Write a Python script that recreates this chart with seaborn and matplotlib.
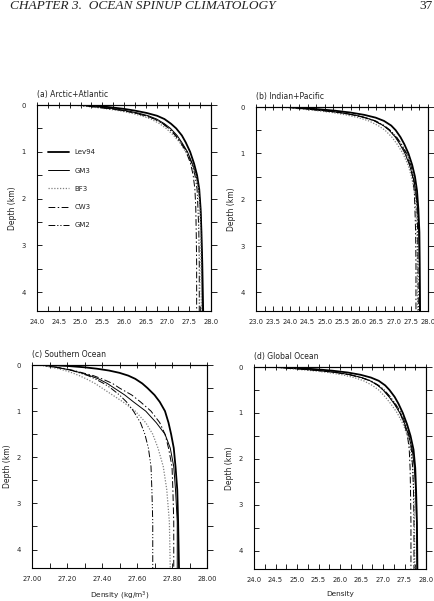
import matplotlib
matplotlib.use("Agg")
import matplotlib.pyplot as plt
from matplotlib.ticker import MultipleLocator, FormatStrFormatter
import pandas as pd
import seaborn as sns

# depth levels (km) shared by all profiles
depth_km = [0, 0.02, 0.05, 0.08, 0.12, 0.17, 0.23, 0.3, 0.4, 0.5, 0.65, 0.8, 1.0, 1.25, 1.5, 1.8, 2.2, 2.7, 3.4, 4.4]
models = ["Lev94", "GM3", "BF3", "CW3", "GM2"]

# (a) Arctic+Atlantic
atl_lev94 = [25.10, 25.40, 25.70, 25.98, 26.25, 26.52, 26.76, 26.93, 27.08, 27.20, 27.33, 27.42, 27.52, 27.61, 27.68, 27.73, 27.76, 27.78, 27.80, 27.82]
atl_gm3 = [24.95, 25.20, 25.50, 25.78, 26.05, 26.32, 26.56, 26.75, 26.93, 27.07, 27.22, 27.33, 27.46, 27.57, 27.66, 27.72, 27.76, 27.78, 27.79, 27.80]
atl_bf3 = [24.80, 25.05, 25.32, 25.58, 25.88, 26.15, 26.40, 26.62, 26.82, 26.97, 27.14, 27.28, 27.42, 27.55, 27.65, 27.71, 27.74, 27.76, 27.77, 27.78]
atl_cw3 = [24.85, 25.12, 25.42, 25.68, 25.97, 26.24, 26.49, 26.70, 26.89, 27.03, 27.18, 27.30, 27.43, 27.53, 27.59, 27.63, 27.65, 27.66, 27.67, 27.67]
atl_gm2 = [24.85, 25.10, 25.40, 25.68, 25.98, 26.26, 26.50, 26.71, 26.90, 27.04, 27.19, 27.31, 27.45, 27.56, 27.63, 27.68, 27.70, 27.72, 27.73, 27.73]

# (b) Indian+Pacific
pac_lev94 = [23.90, 24.30, 24.85, 25.30, 25.75, 26.15, 26.48, 26.72, 26.93, 27.06, 27.20, 27.31, 27.43, 27.54, 27.62, 27.68, 27.72, 27.75, 27.76, 27.77]
pac_gm3 = [23.80, 24.15, 24.60, 25.00, 25.45, 25.85, 26.18, 26.45, 26.70, 26.87, 27.05, 27.18, 27.33, 27.46, 27.56, 27.64, 27.70, 27.73, 27.75, 27.76]
pac_bf3 = [23.70, 24.00, 24.40, 24.78, 25.22, 25.62, 25.98, 26.28, 26.55, 26.75, 26.95, 27.10, 27.27, 27.42, 27.52, 27.60, 27.65, 27.68, 27.69, 27.70]
pac_cw3 = [23.80, 24.12, 24.55, 24.95, 25.40, 25.80, 26.15, 26.44, 26.70, 26.88, 27.07, 27.21, 27.36, 27.48, 27.55, 27.60, 27.62, 27.64, 27.65, 27.65]
pac_gm2 = [23.80, 24.15, 24.60, 25.00, 25.45, 25.85, 26.20, 26.48, 26.73, 26.90, 27.09, 27.23, 27.38, 27.50, 27.58, 27.64, 27.68, 27.70, 27.71, 27.72]

# (c) Southern Ocean
sou_lev94 = [27.10, 27.20, 27.30, 27.37, 27.44, 27.50, 27.55, 27.59, 27.63, 27.66, 27.70, 27.73, 27.76, 27.78, 27.795, 27.81, 27.82, 27.83, 27.835, 27.84]
sou_gm3 = [27.05, 27.09, 27.14, 27.18, 27.23, 27.28, 27.33, 27.38, 27.43, 27.47, 27.53, 27.58, 27.65, 27.71, 27.76, 27.79, 27.81, 27.82, 27.83, 27.83]
sou_bf3 = [27.03, 27.07, 27.11, 27.15, 27.19, 27.23, 27.27, 27.31, 27.36, 27.40, 27.46, 27.52, 27.59, 27.65, 27.69, 27.72, 27.75, 27.77, 27.785, 27.79]
sou_cw3 = [27.05, 27.09, 27.14, 27.19, 27.24, 27.29, 27.35, 27.40, 27.46, 27.50, 27.57, 27.62, 27.68, 27.73, 27.76, 27.78, 27.80, 27.805, 27.81, 27.81]
sou_gm2 = [27.05, 27.09, 27.14, 27.18, 27.23, 27.27, 27.32, 27.36, 27.41, 27.45, 27.50, 27.54, 27.58, 27.62, 27.645, 27.665, 27.68, 27.685, 27.69, 27.69]

# (d) Global Ocean
glo_lev94 = [24.60, 25.00, 25.45, 25.82, 26.18, 26.48, 26.72, 26.90, 27.05, 27.15, 27.27, 27.36, 27.46, 27.56, 27.64, 27.71, 27.75, 27.77, 27.79, 27.80]
glo_gm3 = [24.40, 24.75, 25.20, 25.55, 25.93, 26.25, 26.50, 26.70, 26.88, 27.00, 27.14, 27.26, 27.39, 27.51, 27.60, 27.68, 27.73, 27.76, 27.78, 27.79]
glo_bf3 = [24.30, 24.60, 25.00, 25.35, 25.73, 26.05, 26.33, 26.55, 26.75, 26.90, 27.05, 27.18, 27.33, 27.47, 27.57, 27.64, 27.69, 27.72, 27.73, 27.74]
glo_cw3 = [24.40, 24.72, 25.15, 25.50, 25.90, 26.22, 26.48, 26.70, 26.88, 27.01, 27.15, 27.27, 27.40, 27.50, 27.57, 27.61, 27.63, 27.64, 27.65, 27.65]
glo_gm2 = [24.40, 24.72, 25.15, 25.52, 25.92, 26.24, 26.50, 26.72, 26.90, 27.03, 27.17, 27.29, 27.42, 27.53, 27.61, 27.66, 27.69, 27.71, 27.72, 27.72]


def long_frame(series):
    rows = []
    for name, vals in zip(models, series):
        for d, v in zip(depth_km, vals):
            rows.append({"model": name, "depth": d, "density": v})
    return pd.DataFrame(rows)


sns.set_style("ticks")
plt.rcParams["font.family"] = ["DejaVu Sans"]
plt.rcParams["axes.linewidth"] = 0.8
plt.rcParams["text.color"] = "#222222"
plt.rcParams["axes.labelcolor"] = "#222222"
plt.rcParams["xtick.color"] = "#222222"
plt.rcParams["ytick.color"] = "#222222"

palette = {"Lev94": "black", "GM3": "black", "BF3": "#808080", "CW3": "black", "GM2": "black"}
dashes = {"Lev94": "", "GM3": "", "BF3": (1, 1.3), "CW3": (7, 2.5, 1.5, 2.5), "GM2": (7, 2, 1.2, 2, 1.2, 2)}
sizes = {"Lev94": 1.3, "GM3": 0.7, "BF3": 0.9, "CW3": 0.7, "GM2": 0.7}

panels = [
    ("(a) Arctic+Atlantic", [atl_lev94, atl_gm3, atl_bf3, atl_cw3, atl_gm2], (24.0, 28.0), 0.5, 0.25, "%.1f", "",
     [37, 105, 211, 311]),
    ("(b) Indian+Pacific", [pac_lev94, pac_gm3, pac_bf3, pac_cw3, pac_gm2], (23.0, 28.0), 0.5, 0.25, "%.1f", "",
     [256, 107, 428, 311]),
    ("(c) Southern Ocean", [sou_lev94, sou_gm3, sou_bf3, sou_cw3, sou_gm2], (27.0, 28.0), 0.2, 0.1, "%.2f",
     "Density (kg/m$^3$)", [32, 365, 207, 568]),
    ("(d) Global Ocean", [glo_lev94, glo_gm3, glo_bf3, glo_cw3, glo_gm2], (24.0, 28.0), 0.5, 0.25, "%.1f", "Density",
     [254, 367, 426, 569]),
]

W, H = 435, 601
fig = plt.figure(figsize=(W / 100, H / 100), dpi=100)

for i, (title, series, xlim, major, minor, fmt, xlabel, box) in enumerate(panels):
    x0, y0, x1, y1 = box
    ax = fig.add_axes([x0 / W, 1 - y1 / H, (x1 - x0) / W, (y1 - y0) / H])
    df = long_frame(series)
    sns.lineplot(data=df, x="density", y="depth", hue="model", style="model", size="model",
                 palette=palette, dashes=dashes, sizes=sizes, hue_order=models,
                 estimator=None, orient="y", ax=ax, legend=(i == 0))
    ax.set_xlim(*xlim)
    ax.set_ylim(4.4, 0)
    ax.xaxis.set_major_locator(MultipleLocator(major))
    ax.xaxis.set_minor_locator(MultipleLocator(minor))
    ax.xaxis.set_major_formatter(FormatStrFormatter(fmt))
    ax.yaxis.set_major_locator(MultipleLocator(1))
    ax.yaxis.set_minor_locator(MultipleLocator(0.5))
    ax.tick_params(axis="both", which="both", direction="in", length=3.5, width=0.7,
                   labelsize=4.9, top=False, right=False)
    ax.tick_params(axis="x", which="major", pad=5.5)
    ax.tick_params(axis="y", which="major", pad=8)

    top = ax.secondary_xaxis("top")
    top.xaxis.set_major_locator(MultipleLocator(minor))
    top.tick_params(direction="inout", length=5, width=0.7, labeltop=False)
    right = ax.secondary_yaxis("right")
    right.yaxis.set_major_locator(MultipleLocator(0.5))
    right.tick_params(direction="out", length=4, width=0.7, labelright=False)

    for sp in ax.spines.values():
        sp.set_visible(True)
        sp.set_color("black")
    ax.set_title(title, loc="left", fontsize=5.5, pad=6)
    ax.set_ylabel("Depth (km)", fontsize=5.5, labelpad=3)
    ax.set_xlabel(xlabel, fontsize=5.3, labelpad=6)

    if i == 0:
        sns.move_legend(ax, "upper left", bbox_to_anchor=(45 / W, 1 - 146 / H),
                        bbox_transform=fig.transFigure, frameon=False, title=None,
                        fontsize=5, labelspacing=1.75, handlelength=3.0, handletextpad=0.8,
                        borderpad=0)

fig.text(10 / W, 1 - 9 / H, "CHAPTER 3.  OCEAN SPINUP CLIMATOLOGY", fontsize=9.6,
         family="Liberation Serif", style="italic", va="baseline", ha="left")
fig.text(433 / W, 1 - 9 / H, "37", fontsize=9.6, family="Liberation Serif",
         va="baseline", ha="right")

fig.savefig("out.png", dpi=100)
